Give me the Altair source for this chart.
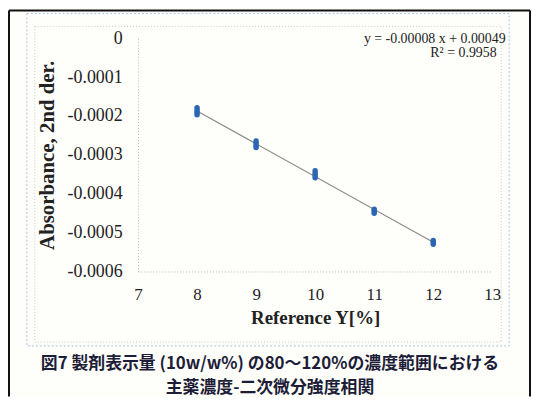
import altair as alt
import pandas as pd

# ---- data ----
x_vals = [8, 8, 8, 8, 9, 9, 9, 9, 10, 10, 10, 10, 11, 11, 11, 12, 12, 12]
y_vals = [-0.000179, -0.000185, -0.000191, -0.000197,
          -0.000264, -0.000270, -0.000276, -0.000281,
          -0.000341, -0.000347, -0.000353, -0.000359,
          -0.000440, -0.000445, -0.000450,
          -0.000520, -0.000525, -0.000530]
x_ticks = [7, 8, 9, 10, 11, 12, 13]
y_ticks = [0, -0.0001, -0.0002, -0.0003, -0.0004, -0.0005, -0.0006]
equation = "y = -0.00008 x + 0.00049"
r2_text = "R² = 0.9958"
caption1 = "図7  製剤表示量 (10w/w%) の80～120%の濃度範囲における"
caption2 = "主薬濃度-二次微分強度相関"
x_title = "Reference Y[%]"
y_title = "Absorbance, 2nd der."

W, H = 357, 235
PL, PT = 131, 29
PR = 527 - PL - W
PB = 390 - PT - H

df = pd.DataFrame({"x": x_vals, "y": y_vals})
one = alt.Data(values=[{}])

serif = "Liberation Serif"
cjk = "Noto Sans CJK JP"

xscale = alt.Scale(domain=[x_ticks[0], x_ticks[-1]], nice=False, zero=False)
yscale = alt.Scale(domain=[y_ticks[-1], y_ticks[0]], nice=False, zero=False)

xaxis = alt.Axis(values=x_ticks, title=x_title, grid=False, ticks=False,
                 format="d", labelOverlap=False, labelFlush=False,
                 domainColor="#b8b8b8", domainDash=[1, 2], domainWidth=1,
                 labelFont=serif, labelFontSize=17, labelColor="#222222",
                 labelPadding=15, titleFont=serif, titleFontSize=19,
                 titleFontWeight="bold", titleColor="#222222", titlePadding=6)
yaxis = alt.Axis(values=y_ticks, title=y_title, grid=False, ticks=False,
                 labelOverlap=False, labelFlush=False,
                 domainColor="#b8b8b8", domainDash=[1, 2], domainWidth=1,
                 labelFont=serif, labelFontSize=18, labelColor="#222222",
                 labelPadding=16,
                 labelExpr="datum.value == 0 ? '0' : '-0.000' + round(-datum.value * 10000)",
                 titleFont=serif, titleFontSize=21, titleFontWeight="bold",
                 titleColor="#222222", titlePadding=10)

# outer frames
RX = W + PR - 1
black_left = alt.Chart(one).mark_rule(color="#111111", strokeWidth=2).encode(
    x=alt.value(-130), y=alt.value(-28), y2=alt.value(H + PB))
black_top = alt.Chart(one).mark_rule(color="#111111", strokeWidth=2).encode(
    x=alt.value(-130), x2=alt.value(RX), y=alt.value(-28))
black_right = alt.Chart(one).mark_rule(color="#111111", strokeWidth=2).encode(
    x=alt.value(RX), y=alt.value(-28), y2=alt.value(H + PB))
blue_frame = alt.Chart(one).mark_rect(fill=None, stroke="#a9c4dc", strokeWidth=1,
                                      strokeDash=[2, 2]).encode(
    x=alt.value(-112), x2=alt.value(374), y=alt.value(-25), y2=alt.value(310))
gray_frame = alt.Chart(one).mark_rect(fill=None, stroke="#c8c8c8", strokeWidth=1,
                                      strokeDash=[1, 2]).encode(
    x=alt.value(-104), x2=alt.value(366), y=alt.value(-12), y2=alt.value(306))

points = alt.Chart(df).mark_circle(size=30, color="#2b66b3", opacity=1).encode(
    x=alt.X("x:Q", scale=xscale, axis=xaxis),
    y=alt.Y("y:Q", scale=yscale, axis=yaxis))

trend = alt.Chart(df).transform_regression("x", "y").mark_line(
    color="#8c8c8c", strokeWidth=1.2).encode(
    x=alt.X("x:Q", scale=xscale, axis=xaxis),
    y=alt.Y("y:Q", scale=yscale, axis=yaxis))

eq1 = alt.Chart(one).mark_text(text=equation, font=serif, fontSize=14,
                               color="#222222", align="center", baseline="middle").encode(
    x=alt.value(299), y=alt.value(1))
eq2 = alt.Chart(one).mark_text(text=r2_text, font=serif, fontSize=14,
                               color="#222222", align="center", baseline="middle").encode(
    x=alt.value(328), y=alt.value(15))

cap1 = alt.Chart(one).mark_text(text=caption1, font=cjk, fontSize=17, fontWeight="bold",
                                color="#1d1d38", align="center", baseline="middle").encode(
    x=alt.value(133), y=alt.value(328))
cap2 = alt.Chart(one).mark_text(text=caption2, font=cjk, fontSize=17, fontWeight="bold",
                                color="#1d1d38", align="center", baseline="middle").encode(
    x=alt.value(133), y=alt.value(352))

chart = alt.layer(
    blue_frame, gray_frame, black_left, black_top, black_right,
    trend, points, eq1, eq2, cap1, cap2
).properties(
    width=W, height=H,
    autosize=alt.AutoSizeParams(type="none"),
    padding={"left": PL, "top": PT, "right": PR, "bottom": PB},
    background="#fefefb",
).configure_view(strokeWidth=0)

chart.save("out.html", embed_options={"renderer": "svg", "actions": False})
